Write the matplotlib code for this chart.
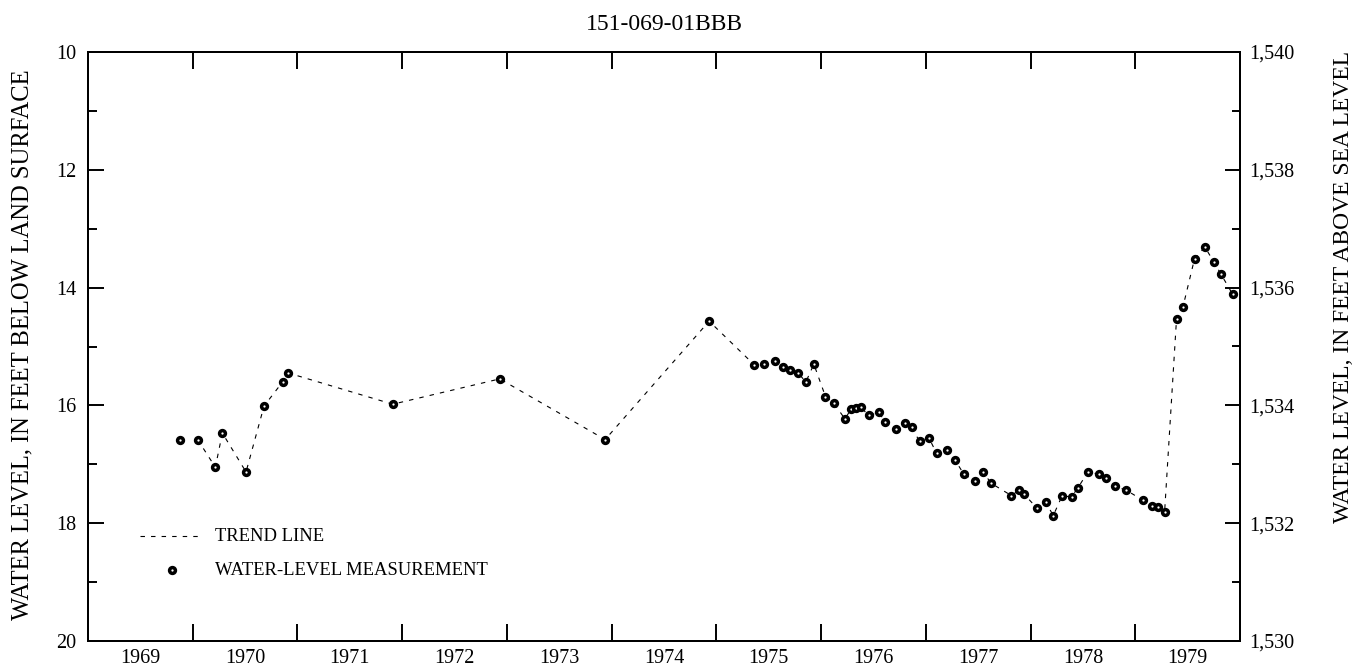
#!/usr/bin/python
# -*- coding: UTF-8 -*-
""" Hydrograph of well 151-069-01BBB, 1969-1979 """
import numpy as np
import matplotlib
matplotlib.use('Agg')
import matplotlib.pyplot as plt
from matplotlib.ticker import MultipleLocator, FixedLocator, FuncFormatter, NullFormatter

plt.rcParams['font.family'] = ['Liberation Serif', 'DejaVu Serif']

well_name = '151-069-01BBB'
land_surface = 1550.  # ft above sea level

# measurement dates (decimal years) and depth to water (ft below land surface)
meas_year = [1969.879, 1970.047, 1970.216, 1970.283, 1970.509, 1970.681, 1970.859,
             1970.913, 1971.910, 1972.932, 1973.938, 1974.931, 1975.361, 1975.454,
             1975.562, 1975.632, 1975.705, 1975.779, 1975.855, 1975.931, 1976.042,
             1976.122, 1976.227, 1976.288, 1976.335, 1976.380, 1976.453, 1976.555,
             1976.612, 1976.720, 1976.797, 1976.864, 1976.940, 1977.029, 1977.102,
             1977.201, 1977.277, 1977.360, 1977.466, 1977.548, 1977.622, 1977.816,
             1977.892, 1977.940, 1978.064, 1978.144, 1978.217, 1978.300, 1978.392,
             1978.452, 1978.548, 1978.656, 1978.723, 1978.802, 1978.914, 1979.073,
             1979.156, 1979.213, 1979.280, 1979.394, 1979.455, 1979.566, 1979.665,
             1979.748, 1979.818, 1979.929]
depth = [16.58, 16.58, 17.05, 16.47, 17.13, 16.01, 15.60,
         15.45, 15.98, 15.55, 16.58, 14.57, 15.31, 15.29,
         15.25, 15.34, 15.40, 15.45, 15.60, 15.30, 15.85,
         15.96, 16.23, 16.06, 16.04, 16.03, 16.17, 16.12,
         16.29, 16.40, 16.30, 16.37, 16.61, 16.55, 16.81,
         16.76, 16.92, 17.16, 17.28, 17.13, 17.32, 17.53,
         17.44, 17.51, 17.75, 17.64, 17.87, 17.54, 17.55,
         17.40, 17.13, 17.17, 17.23, 17.37, 17.44, 17.61,
         17.71, 17.73, 17.81, 14.53, 14.33, 13.51, 13.31,
         13.56, 13.77, 14.11]
# trend line starts at the second measurement
trend_start = 1

year_labels = [str(y) for y in range(1969, 1980)]

meas_year = np.array(meas_year)
depth = np.array(depth)

dash = (4, 5.5)
mk = dict(mfc='white', mec='k', ms=4.2, mew=2.5)

fig = plt.figure(figsize=(13.64, 6.70), dpi=100)
ax = fig.add_axes([88/1364., 1-641/670., (1240-88)/1364., (641-52)/670.])

ax.plot(meas_year[trend_start:], depth[trend_start:], color='k', lw=0.8, dashes=dash)
ax.plot(meas_year, depth, 'o', ls='none', **mk)

ax.set_xlim(1969, 1980)
ax.set_ylim(20, 10)

# year boundaries as ticks, labels centred within each year
ax.xaxis.set_major_locator(FixedLocator(np.arange(1970, 1980)))
ax.xaxis.set_major_formatter(NullFormatter())
ax.xaxis.set_minor_locator(FixedLocator(np.arange(1969, 1980) + 0.5))
ax.xaxis.set_minor_formatter(FuncFormatter(lambda v, p: year_labels[int(v - 1969)]))
ax.tick_params(axis='x', which='major', direction='in', length=12, width=1.4,
               top=True, bottom=True)
ax.tick_params(axis='x', which='minor', length=0, labelsize=14.5, pad=6)

ax.yaxis.set_major_locator(MultipleLocator(2))
ax.yaxis.set_minor_locator(MultipleLocator(1))
ax.tick_params(axis='y', which='major', direction='in', length=11.5, width=1.4,
               labelsize=14.5, pad=8.5)
ax.tick_params(axis='y', which='minor', direction='in', length=6.7, width=1.4)
ax.set_ylabel('WATER LEVEL, IN FEET BELOW LAND SURFACE', fontsize=17.7)
ax.yaxis.set_label_coords(-0.047, 0.503)

for sp in ax.spines.values():
    sp.set_linewidth(1.4)

# right axis: elevation of the water surface
ax2 = ax.twinx()
ax2.set_ylim(land_surface - 20, land_surface - 10)
ax2.yaxis.set_major_locator(MultipleLocator(2))
ax2.yaxis.set_minor_locator(MultipleLocator(1))
ax2.yaxis.set_major_formatter(FuncFormatter(lambda v, p: '{:,.0f}'.format(v)))
ax2.tick_params(axis='y', which='major', direction='in', length=11, width=1.4,
                labelsize=14.5, pad=6.5)
ax2.tick_params(axis='y', which='minor', direction='in', length=6, width=1.4)
ax2.set_ylabel('WATER LEVEL, IN FEET ABOVE SEA LEVEL', fontsize=16.9)
ax2.yaxis.set_label_coords(1.081, 0.601)
for sp in ax2.spines.values():
    sp.set_linewidth(1.4)

ax.set_title(well_name, fontsize=17, pad=16)

# hand-drawn legend, like the original report
ax.plot([0.045, 0.1], [0.178, 0.178], transform=ax.transAxes, color='k', lw=0.8,
        dashes=dash)
ax.text(0.110, 0.178, 'TREND LINE', transform=ax.transAxes, fontsize=13.4,
        va='center', ha='left')
ax.plot([0.0729], [0.1205], 'o', transform=ax.transAxes, **mk)
ax.text(0.110, 0.1205, 'WATER-LEVEL MEASUREMENT', transform=ax.transAxes,
        fontsize=13.4, va='center', ha='left')

fig.savefig('out.png', dpi=100)
